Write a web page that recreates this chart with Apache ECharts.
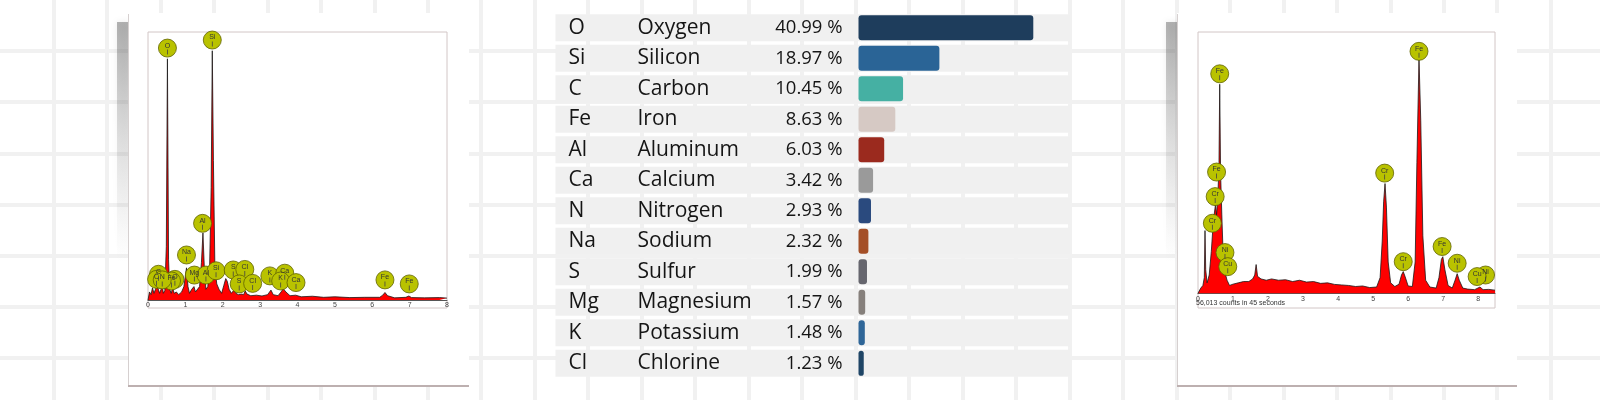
<!DOCTYPE html>
<html><head><meta charset="utf-8">
<script src="https://cdn.jsdelivr.net/npm/echarts@6/dist/echarts.min.js"></script>
<style>html,body{margin:0;padding:0;background:#fff}#c{width:1600px;height:400px}</style>
</head><body><div id="c"></div>
<script>
// ---- table / bar data ----
const symbols = ['O','Si','C','Fe','Al','Ca','N','Na','S','Mg','K','Cl'];
const names = ['Oxygen','Silicon','Carbon','Iron','Aluminum','Calcium','Nitrogen','Sodium','Sulfur','Magnesium','Potassium','Chlorine'];
const percents = [40.99,18.97,10.45,8.63,6.03,3.42,2.93,2.32,1.99,1.57,1.48,1.23];
const barColors = ['#1e3d5c','#2a6496','#45b0a3','#d6c9c4','#9b2a1e','#9a9a9a','#2a4a7e','#a44f27','#66666e','#86807c','#2f6698','#1f4566'];

// ---- left EDS spectrum (keV, relative counts) ----
const leftSpectrum = [[0,0],[0.04,3],[0.08,2],[0.12,4.5],[0.16,2.5],[0.2,4],[0.24,5.5],[0.28,6],[0.31,2.5],[0.35,4],[0.38,5.5],[0.41,2.5],[0.45,3.5],[0.49,20],[0.52,90],[0.55,15],[0.58,4],[0.62,2.5],[0.66,4.5],[0.7,2.5],[0.76,3],[0.82,2],[0.9,3],[0.96,5],[1.03,12],[1.07,5],[1.11,2.5],[1.17,4],[1.23,5],[1.27,3],[1.32,2.5],[1.38,5],[1.43,14],[1.47,25],[1.51,11],[1.55,4],[1.6,5],[1.65,13],[1.69,42],[1.72,93],[1.75,52],[1.79,12],[1.84,6],[1.9,4],[1.97,2.5],[2.03,5.5],[2.08,8],[2.12,7],[2.17,4],[2.23,2.5],[2.3,3.7],[2.35,2.5],[2.42,2],[2.5,2.2],[2.56,2],[2.6,3.4],[2.65,2.2],[2.75,1.6],[2.9,1.8],[3.05,1.5],[3.2,2],[3.29,3.7],[3.35,2],[3.48,1.6],[3.56,3],[3.62,4.2],[3.69,3],[3.8,1.6],[3.95,1.8],[4.1,1.2],[4.4,1.4],[4.7,1],[5,1.2],[5.4,0.9],[5.8,1],[6.2,1],[6.28,1.8],[6.34,2.8],[6.41,1.6],[6.6,0.8],[6.9,1],[6.98,1.5],[7.05,0.9],[7.4,0.8],[7.8,0.9],[8,0.7]];
const leftPeakLabels = [[0.28,9.6,'C'],[0.23,7.7,'C'],[0.72,7.7,'O'],[0.63,7.1,'Fe'],[0.38,7.5,'N'],[0.52,94,'O'],[1.72,97,'Si'],[1.46,28.6,'Al'],[1.03,16.8,'Na'],[1.24,9.3,'Mg'],[1.55,9.3,'Al'],[1.82,10.9,'Si'],[2.28,11.2,'S'],[2.59,11.4,'Cl'],[2.44,6.0,'S'],[2.8,6.2,'Cl'],[3.26,9.0,'K'],[3.66,10.0,'Ca'],[3.55,7.1,'K'],[3.96,6.5,'Ca'],[6.34,7.5,'Fe'],[6.99,6.0,'Fe']];

// ---- right EDS spectrum ----
const rightSpectrum = [[0,0],[0.08,2],[0.14,3],[0.18,6],[0.2,24],[0.22,9],[0.26,4],[0.32,7],[0.38,16],[0.42,24],[0.46,30],[0.5,34],[0.53,30],[0.57,38],[0.6,50],[0.62,80],[0.645,46],[0.68,30],[0.72,14],[0.77,8],[0.83,5],[0.9,3],[1.0,3.5],[1.15,4],[1.3,4.5],[1.45,4.5],[1.56,5.5],[1.62,7],[1.66,11],[1.7,6.5],[1.8,5.5],[1.95,5],[2.1,5.5],[2.3,5],[2.5,5.2],[2.7,4.5],[2.9,5],[3.1,4.3],[3.3,4.5],[3.5,3.8],[3.7,4],[3.9,3.4],[4.1,3.2],[4.3,3],[4.5,2.6],[4.7,2.8],[4.9,2.2],[5.1,2.4],[5.2,6],[5.26,20],[5.3,35],[5.34,42],[5.38,33],[5.43,12],[5.5,4],[5.62,2.6],[5.74,3.5],[5.81,7],[5.86,8.3],[5.91,6.5],[6.0,2.8],[6.12,2.6],[6.2,12],[6.25,50],[6.31,90],[6.36,66],[6.42,22],[6.5,5],[6.62,2.4],[6.8,2],[6.88,6],[6.95,13],[6.99,14],[7.05,9],[7.14,3],[7.26,2],[7.34,5],[7.4,7.5],[7.46,5],[7.56,2],[7.7,1.6],[7.9,1.4],[8.05,2.4],[8.14,1.4],[8.3,1.5],[8.48,1.2]];
const rightPeakLabels = [[0.62,84,'Fe'],[0.53,46.4,'Fe'],[0.49,37,'Cr'],[0.41,26.8,'Cr'],[0.77,15.6,'Ni'],[0.85,10.2,'Cu'],[5.33,46,'Cr'],[5.86,12.1,'Cr'],[6.31,92.6,'Fe'],[6.97,17.9,'Fe'],[7.40,11.5,'Ni'],[8.21,7.0,'Ni'],[7.97,6.4,'Cu']];
const rightCaption = '56,013 counts in 45 seconds';

const chart = echarts.init(document.getElementById('c'), null, {renderer:'canvas'});

function card(x, w, fx, fw) {
  return [
    {type:'rect', z:1, shape:{x:x-11, y:22, width:14, height:240},
     style:{fill:new echarts.graphic.LinearGradient(0,0,0,1,[{offset:0,color:'rgba(90,90,90,0.45)'},{offset:0.5,color:'rgba(120,120,120,0.2)'},{offset:1,color:'rgba(160,160,160,0)'}]),
            shadowBlur:6, shadowColor:'rgba(0,0,0,0.18)'}},
    {type:'rect', z:1, shape:{x:x, y:13, width:w, height:373}, style:{fill:'#ffffff'}},
    {type:'line', z:1, shape:{x1:x+0.5, y1:14, x2:x+0.5, y2:386}, style:{stroke:'#d6d0d0', lineWidth:1}},
    {type:'line', z:1, shape:{x1:x, y1:386, x2:x+w, y2:386}, style:{stroke:'#bdb0b0', lineWidth:2}},
    {type:'rect', z:1, shape:{x:fx, y:32, width:fw, height:276}, style:{fill:'#ffffff', stroke:'#d2c6c6', lineWidth:1}}
  ];
}

const markerSeries = (data, xi, yi) => ({
  type:'scatter', xAxisIndex:xi, yAxisIndex:yi, z:6, silent:true,
  data: data, symbolSize:18,
  itemStyle:{color:'#b9c200', borderColor:'#5f6200', borderWidth:0.8, opacity:1},
  label:{show:true, position:'inside', formatter:p=>'{t|'+p.data[2]+'}\n{k|}', rich:{
    t:{fontSize:7, color:'#333', fontFamily:'Liberation Sans', lineHeight:8},
    k:{width:0.8, height:5, backgroundColor:'#444'}}}
});

const spectrumSeries = (data, xi, yi) => ({
  type:'line', xAxisIndex:xi, yAxisIndex:yi, z:5, silent:true, data:data,
  showSymbol:false, smooth:false,
  lineStyle:{color:'#1b1b1b', width:0.8},
  areaStyle:{color:'#ff0000', opacity:1}
});

const specX = (gi, max) => ({
  type:'value', gridIndex:gi, min:0, max:max, interval:1, z:4,
  axisLine:{show:true, lineStyle:{color:'#555', width:1}},
  axisTick:{show:false}, splitLine:{show:false},
  axisLabel:{fontSize:7, color:'#444', margin:2, fontFamily:'Liberation Sans',
    formatter:v=>Number.isInteger(v)?String(v):''}
});
const specY = (gi) => ({type:'value', gridIndex:gi, min:0, max:100, show:false, splitLine:{show:false}});

const paperLine = {show:true, showMinLine:false, showMaxLine:false, lineStyle:{color:'#f1f1f1', width:4, type:'solid'}};
const F = 'Open Sans';
const option = {
  animation:false,
  backgroundColor:'#ffffff',
  graphic:[...card(128,341,148,299), ...card(1177,340,1198,297),
    {type:'text', z:7, left:1196, top:300, style:{text:rightCaption, fontSize:7, fill:'#333', fontFamily:'Liberation Sans'}}],
  grid:[
    {left:-22.2142857, top:-8.1666667, width:1622.2142857, height:408.1666667, show:false, z:0},
    {left:555.5, top:12.5, width:514.5, height:366, show:false},
    {left:858.5, top:12.5, width:211.5, height:366, show:false},
    {left:148, top:32, width:299, height:268, show:false},
    {left:1198, top:32, width:297, height:261.3, show:false}
  ],
  xAxis:[
    {type:'value', gridIndex:0, min:0, max:1622.2142857, interval:54.2142857, z:0,
     axisLine:{show:false}, axisTick:{show:false}, axisLabel:{show:false}, splitLine:paperLine},
    {type:'value', gridIndex:1, min:0, max:100, show:false},
    {type:'value', gridIndex:2, min:0, max:49.6, show:false},
    specX(3, 8),
    specX(4, 8.48)
  ],
  yAxis:[
    {type:'value', gridIndex:0, min:0, max:408.1666667, interval:52.1666667, inverse:true, z:0,
     axisLine:{show:false}, axisTick:{show:false}, axisLabel:{show:false}, splitLine:paperLine},
    {type:'category', gridIndex:1, inverse:true, data:symbols, z:5,
     axisLine:{show:false}, axisTick:{show:false},
     axisLabel:{inside:true, margin:13, color:'#151515', fontFamily:F, fontSize:21,
       formatter:(v,i)=>'{s|'+v+'}{n|'+names[i]+'}{p|'+percents[i].toFixed(2)+' %}',
       rich:{s:{width:69, fontSize:21, fontFamily:F, color:'#151515'},
             n:{width:135, fontSize:21, fontFamily:F, color:'#151515'},
             p:{width:70, align:'right', fontSize:18.5, fontFamily:F, color:'#151515'}}}},
    {type:'category', gridIndex:2, inverse:true, data:symbols, show:false},
    specY(3),
    specY(4)
  ],
  series:[
    {type:'bar', xAxisIndex:1, yAxisIndex:1, z:3, silent:true, barWidth:27,
     data:percents, itemStyle:{color:'rgba(0,0,0,0)'},
     showBackground:true, backgroundStyle:{color:'#f0f0f0', opacity:1}},
    {type:'bar', xAxisIndex:2, yAxisIndex:2, z:4, silent:true, barWidth:25,
     data:percents.map((v,i)=>({value:v, itemStyle:{color:barColors[i], borderRadius:3}}))},
    spectrumSeries(leftSpectrum, 3, 3),
    markerSeries(leftPeakLabels, 3, 3),
    spectrumSeries(rightSpectrum, 4, 4),
    markerSeries(rightPeakLabels, 4, 4)
  ]
};
chart.setOption(option);
</script></body></html>
